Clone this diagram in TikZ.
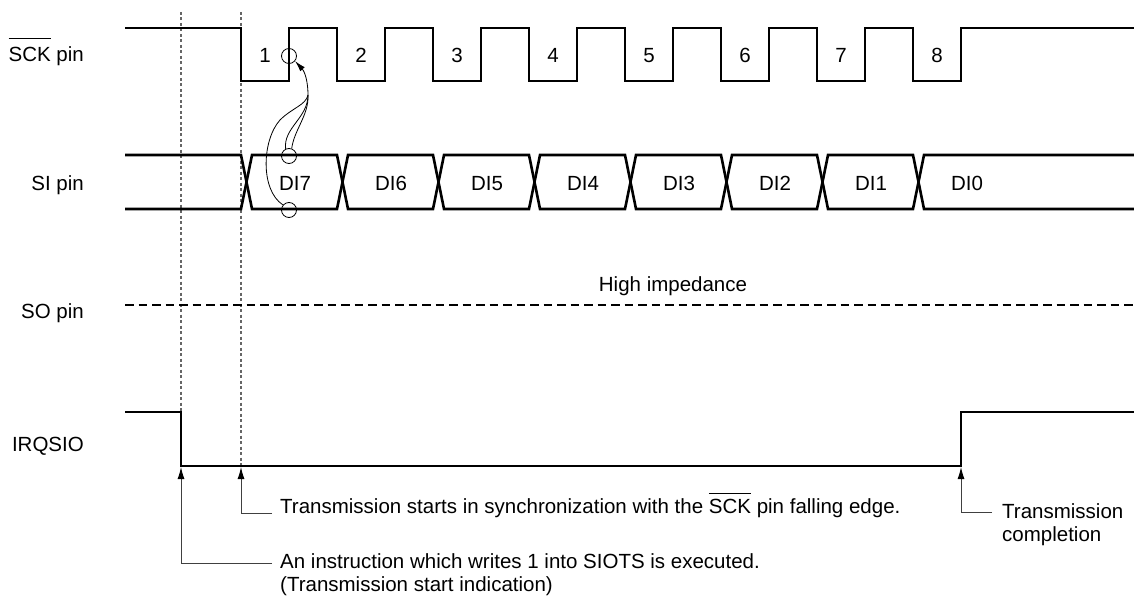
\documentclass[tikz,border=0pt]{standalone}
\usepackage{fontspec}
\setmainfont{Liberation Sans}
\usetikzlibrary{arrows.meta}
\newcommand{\barred}[2][20pt]{\setbox0\hbox{#2}\rlap{\raisebox{#1}{\rule{\wd0}{0.9pt}}}\box0\relax}
\begin{document}
\begin{tikzpicture}[x=1pt,y=-1pt,
  wave/.style={line width=2.6pt, line join=miter},
  lbl/.style={font=\fontsize{20.5}{23}\selectfont, inner sep=0pt},
  guide/.style={black!60, line width=1.1pt, dash pattern=on 3pt off 2.5pt},
  callout/.style={black!75, line width=1pt, -{Latex[length=12pt,width=7pt,color=black]}},
  thinline/.style={line width=0.8pt},
  ring/.style={circle, draw, line width=0.8pt, minimum size=15pt, inner sep=0pt},
]
\useasboundingbox (0,0) rectangle (1134,599);

% signal labels
\node[lbl, anchor=base east] (lsck) at (84,62) {\barred[23pt]{SCK} pin};
\node[lbl, anchor=base east] (lsi) at (84,190) {SI pin};
\node[lbl, anchor=base east] (lso) at (84,318) {SO pin};
\node[lbl, anchor=base east] (lirq) at (84,451) {IRQSIO};

% guide lines
\draw[guide] (181,12) -- (181,466);
\draw[guide] (241,12) -- (241,466);

% SCK waveform
\draw[wave] (125,28) foreach \k in {0,...,7} { -- ({241+96*\k},28) -- ({241+96*\k},81) -- ({289+96*\k},81) -- ({289+96*\k},28) } -- (1134,28);
\foreach \k [evaluate=\k as \n using int(\k+1)] in {0,...,7}
  \node[lbl, anchor=base] (n\n) at ({265+96*\k},63) {\n};

% SI waveform
\draw[wave] (125,155) -- (241,155) -- (252,209) -- (337,209) -- (348,155) -- (433,155) -- (444,209) -- (529,209) -- (540,155) -- (625,155) -- (636,209) -- (721,209) -- (732,155) -- (817,155) -- (828,209) -- (913,209) -- (924,155) -- (1134,155);
\draw[wave] (125,209) -- (241,209) -- (252,155) -- (337,155) -- (348,209) -- (433,209) -- (444,155) -- (529,155) -- (540,209) -- (625,209) -- (636,155) -- (721,155) -- (732,209) -- (817,209) -- (828,155) -- (913,155) -- (924,209) -- (1134,209);
\foreach \k/\d in {0/7,1/6,2/5,3/4,4/3,5/2,6/1,7/0}
  \node[lbl, anchor=base] (d\d) at ({295+96*\k},190) {DI\d};

% SO
\draw[line width=2.5pt, dash pattern=on 8.5pt off 5pt] (125,305) -- (1134,305);
\node[lbl, anchor=base] (hz) at (673,291) {High impedance};

% IRQSIO
\draw[wave] (125,412) -- (181,412) -- (181,466) -- (961,466) -- (961,412) -- (1134,412);

% circles and curved arrow
\node[ring] (cs) at (289,56) {};
\node[ring] (ct) at (289,156) {};
\node[ring] (cb) at (289,210) {};
\draw[thinline, -{Latex[length=11pt,width=6pt]}] (ct.115) .. controls (283,128) and (308,118) .. (308,95) .. controls (308,82) and (305,72) .. (cs.-40);
\draw[thinline] (ct.70) .. controls (294,130) and (309,115) .. (308,95);
\draw[thinline] (cb.140) .. controls (260,190) and (262,140) .. (280,120) .. controls (292,108) and (306,105) .. (308,95);

% annotations
\coordinate (a1) at (181,467);
\coordinate (a2) at (241,467);
\coordinate (a3) at (961,467);
\node[lbl, anchor=base west] (t1) at (280,513) {Transmission starts in synchronization with the \barred[19pt]{SCK} pin falling edge.};
\node[lbl, anchor=base west] (t2) at (280,568) {An instruction which writes 1 into SIOTS is executed.};
\node[lbl, anchor=base west] (t2b) at (280,591) {(Transmission start indication)};
\node[lbl, anchor=base west] (t3) at (1002,518) {Transmission};
\node[lbl, anchor=base west] (t3b) at (1002,541) {completion};
\draw[callout] ([xshift=-8pt]t1.base west) -| (a2);
\draw[callout] ([xshift=-8pt,yshift=5pt]t2.base west) -| (a1);
\draw[callout] ([xshift=-10pt,yshift=6pt]t3.base west) -| (a3);
\end{tikzpicture}
\end{document}
